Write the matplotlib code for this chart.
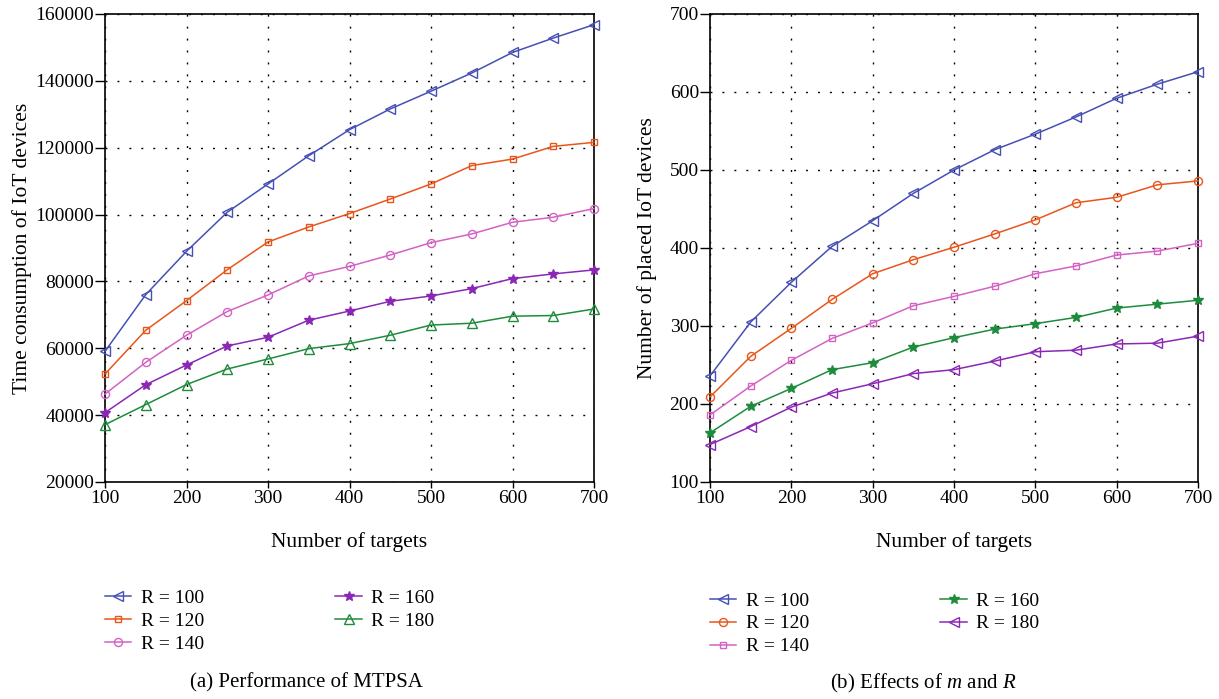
import matplotlib
matplotlib.use("Agg")
import matplotlib.pyplot as plt

plt.rcParams['font.family'] = ['Liberation Serif', 'DejaVu Serif']
plt.rcParams['mathtext.fontset'] = 'custom'
plt.rcParams['mathtext.it'] = 'Liberation Serif:italic'
plt.rcParams['mathtext.rm'] = 'Liberation Serif'

targets = [100, 150, 200, 250, 300, 350, 400, 450, 500, 550, 600, 650, 700]
labels = ["R = 100", "R = 120", "R = 140", "R = 160", "R = 180"]

# (a) Time consumption of IoT devices
time_r100 = [59100, 76050, 89000, 100700, 109150, 117600, 125400, 131600, 136900, 142350, 148500, 152800, 156800]
time_r120 = [52300, 65400, 74250, 83500, 91800, 96300, 100300, 104650, 109150, 114650, 116600, 120400, 121600]
time_r140 = [46300, 55800, 63900, 71000, 75950, 81650, 84500, 87900, 91600, 94200, 97700, 99200, 101800]
time_r160 = [40750, 49100, 55000, 60700, 63300, 68400, 71150, 74050, 75650, 77850, 80850, 82250, 83450]
time_r180 = [37150, 43150, 49150, 53800, 56800, 59900, 61400, 63900, 66950, 67500, 69600, 69800, 71750]

# (b) Number of placed IoT devices
placed_r100 = [236, 305, 356, 402, 435, 470, 500, 526, 546, 568, 592, 610, 626]
placed_r120 = [209, 261, 297, 334, 367, 385, 401, 418, 436, 458, 465, 481, 486]
placed_r140 = [186, 223, 256, 284, 304, 326, 338, 351, 367, 377, 391, 396, 406]
placed_r160 = [163, 197, 220, 244, 253, 273, 285, 296, 303, 311, 323, 328, 333]
placed_r180 = [148, 171, 196, 214, 226, 239, 244, 255, 267, 269, 277, 278, 287]

blue = '#4650b4'
orange = '#e8561c'
pink = '#d462c4'
purple = '#8a28b4'
green = '#1e8c3c'

W, H = 1219, 699
fig = plt.figure(figsize=(W / 100, H / 100), dpi=100)

def ax_rect(x0, x1, y0, y1):
    return [x0 / W, 1 - y1 / H, (x1 - x0) / W, (y1 - y0) / H]

ax1 = fig.add_axes(ax_rect(105, 594, 14, 482))
ax2 = fig.add_axes(ax_rect(710, 1198, 14, 482))

styles_a = [
    (time_r100, blue, '<', 6.5, 'none'),
    (time_r120, orange, 's', 5, 'none'),
    (time_r140, pink, 'o', 5.8, 'none'),
    (time_r160, purple, '*', 7.5, 'full'),
    (time_r180, green, '^', 6.5, 'none'),
]
styles_b = [
    (placed_r100, blue, '<', 6.5, 'none'),
    (placed_r120, orange, 'o', 5.8, 'none'),
    (placed_r140, pink, 's', 5, 'none'),
    (placed_r160, green, '*', 7.5, 'full'),
    (placed_r180, purple, '<', 6.5, 'none'),
]

def draw(ax, styles):
    for (vals, c, m, ms, fs), lab in zip(styles, labels):
        ax.plot(targets, vals, color=c, marker=m, markersize=ms, fillstyle=fs,
                markeredgewidth=1.0, linewidth=1.1, label=lab, clip_on=False, zorder=3)
    ax.set_xlim(100, 700)
    ax.set_xticks(range(100, 701, 100))
    ax.grid(True, color='black', linestyle=(0, (1.4, 7.2)), linewidth=1.0)
    for s in ax.spines.values():
        s.set_linewidth(1.2)
    ax.tick_params(direction='out', width=1.0, labelsize=14)
    ax.tick_params(axis='x', length=4, pad=2)
    ax.tick_params(axis='y', length=7, pad=1)
    ax.set_xlabel("Number of targets", fontsize=15.5, labelpad=18)

draw(ax1, styles_a)
ax1.set_ylim(20000, 160000)
ax1.set_yticks(range(20000, 160001, 20000))
ax1.set_ylabel("Time consumption of IoT devices", fontsize=15.5, labelpad=2)

draw(ax2, styles_b)
ax2.set_ylim(100, 700)
ax2.set_yticks(range(100, 701, 100))
ax2.set_ylabel("Number of placed IoT devices", fontsize=15.5, labelpad=9)

leg_kw = dict(ncol=2, frameon=False, fontsize=14, handlelength=1.35, handletextpad=0.5,
              labelspacing=0.27, borderpad=0, borderaxespad=0, loc='upper left',
              columnspacing=6.75)
ax1.legend(bbox_to_anchor=(0.0, -0.229), **leg_kw)
ax2.legend(bbox_to_anchor=(0.0, -0.235), **leg_kw)

fig.text(306 / W, 1 - 683 / H, "(a) Performance of MTPSA", ha='center', va='center', fontsize=15)
fig.text(923 / W, 1 - 683 / H, "(b) Effects of $m$ and $R$", ha='center', va='center', fontsize=15)

fig.savefig("out.png", dpi=100)
